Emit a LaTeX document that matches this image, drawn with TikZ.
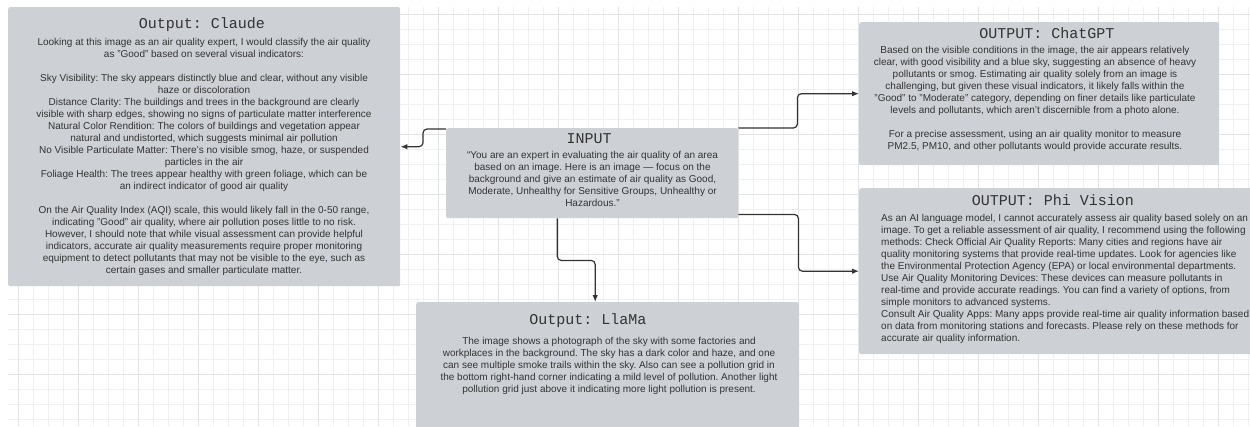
\documentclass[tikz,border=0pt]{standalone}
\usepackage{fontspec}
\setmainfont{Liberation Sans}
\newfontfamily\headfont{Liberation Mono}
\usetikzlibrary{arrows.meta}

\definecolor{boxgray}{HTML}{CDD1D6}
\definecolor{inkgray}{HTML}{333333}
\definecolor{gridminor}{HTML}{F0F0F0}
\definecolor{gridmajor}{HTML}{E3E3E3}

\begin{document}
\begin{tikzpicture}[
  x=1bp,
  y=-1bp,
  minor grid/.style={
    gridminor,
    line width=.8bp
  },
  major grid/.style={
    gridmajor,
    line width=.9bp
  },
  panel/.style={
    fill=boxgray,
    rounded corners=2bp,
    anchor=north west,
    inner sep=0pt
  },
  panel title/.style={
    text=inkgray,
    font=\headfont\fontsize{15bp}{17bp}\selectfont\frenchspacing,
    inner sep=0pt
  },
  panel text/.style={
    text=inkgray,
    font=\fontsize{10bp}{12bp}\selectfont\frenchspacing,
    align=center,
    anchor=north,
    inner sep=0pt
  },
  link/.style={
    draw=inkgray,
    line width=1.2bp,
    rounded corners=4bp,
    -{Latex[length=7bp,width=5.5bp]}
  },
]
\useasboundingbox (0,0) rectangle (1250,426);
\clip (0,0) rectangle (1250,426);

% background grid
\foreach \gx in {18.3,33.3,...,1250}
  \draw[minor grid] (\gx,7) -- (\gx,426);
\foreach \gy in {14.3,29.3,...,426}
  \draw[minor grid] (8,\gy) -- (1250,\gy);
\foreach \gx in {18.3,78.3,...,1250}
  \draw[major grid] (\gx,7) -- (\gx,426);
\foreach \gy in {14.3,74.3,...,426}
  \draw[major grid] (8,\gy) -- (1250,\gy);

% panels
\node[panel, minimum width=392bp, minimum height=279bp] (claude) at (8,7) {};
\node[panel, minimum width=292bp, minimum height=90bp] (input) at (446,128) {};
\node[panel, minimum width=360bp, minimum height=143bp] (chatgpt) at (859,22) {};
\node[panel, minimum width=401bp, minimum height=166bp] (phi) at (859,188) {};
\node[panel, minimum width=383bp, minimum height=140bp] (llama) at (416,302) {};

% titles
\node[panel title] (claudetitle) at (202,25) {Output: Claude};
\node[panel title] (inputtitle) at (589,139) {INPUT};
\node[panel title] (chatgpttitle) at (1047,33) {OUTPUT: ChatGPT};
\node[panel title] (phititle) at (1053,200) {OUTPUT: Phi Vision};
\node[panel title] (llamatitle) at (588,321) {Output: LlaMa};

% texts
\node[panel text] (claudetext) at (204,38.5) {Looking at this image as an air quality expert, I would classify the air quality\\
as "Good" based on several visual indicators:\\
\strut\\
Sky Visibility: The sky appears distinctly blue and clear, without any visible\\
haze or discoloration\\
Distance Clarity: The buildings and trees in the background are clearly\\
visible with sharp edges, showing no signs of particulate matter interference\\
Natural Color Rendition: The colors of buildings and vegetation appear\\
natural and undistorted, which suggests minimal air pollution\\
No Visible Particulate Matter: There's no visible smog, haze, or suspended\\
particles in the air\\
Foliage Health: The trees appear healthy with green foliage, which can be\\
an indirect indicator of good air quality\\
\strut\\
On the Air Quality Index (AQI) scale, this would likely fall in the 0-50 range,\\
indicating "Good" air quality, where air pollution poses little to no risk.\\
However, I should note that while visual assessment can provide helpful\\
indicators, accurate air quality measurements require proper monitoring\\
equipment to detect pollutants that may not be visible to the eye, such as\\
certain gases and smaller particulate matter.};

\node[panel text] (inputtext) at (592.5,151.5) {“You are an expert in evaluating the air quality of an area\\
based on an image. Here is an image — focus on the\\
background and give an estimate of air quality as Good,\\
Moderate, Unhealthy for Sensitive Groups, Unhealthy or\\
Hazardous."};

\node[panel text] (chatgpttext) at (1035,46.5) {Based on the visible conditions in the image, the air appears relatively\\
clear, with good visibility and a blue sky, suggesting an absence of heavy\\
pollutants or smog. Estimating air quality solely from an image is\\
challenging, but given these visual indicators, it likely falls within the\\
"Good" to "Moderate" category, depending on finer details like particulate\\
levels and pollutants, which aren't discernible from a photo alone.\\
\strut\\
For a precise assessment, using an air quality monitor to measure\\
PM2.5, PM10, and other pollutants would provide accurate results.};

\node[panel text, align=left, anchor=north west] (phitext) at (881,214.5) {As an AI language model, I cannot accurately assess air quality based solely on an\\
image. To get a reliable assessment of air quality, I recommend using the following\\
methods: Check Official Air Quality Reports: Many cities and regions have air\\
quality monitoring systems that provide real-time updates. Look for agencies like\\
the Environmental Protection Agency (EPA) or local environmental departments.\\
Use Air Quality Monitoring Devices: These devices can measure pollutants in\\
real-time and provide accurate readings. You can find a variety of options, from\\
simple monitors to advanced systems.\\
Consult Air Quality Apps: Many apps provide real-time air quality information based\\
on data from monitoring stations and forecasts. Please rely on these methods for\\
accurate air quality information.};

\node[panel text] (llamatext) at (609,337.5) {The image shows a photograph of the sky with some factories and\\
workplaces in the background. The sky has a dark color and haze, and one\\
can see multiple smoke trails within the sky. Also can see a pollution grid in\\
the bottom right-hand corner indicating a mild level of pollution. Another light\\
pollution grid just above it indicating more light pollution is present.};

% connectors
\draw[link] (input.north west) ++(0,1) -- ++(-23,0) |- (claude.east);
\draw[link] (input.north east) -- ++(59,0) |- (chatgpt.west);
\draw[link] (input.south east) ++(0,-4) -- ++(60,0) |- (phi.west);
\draw[link] (input.south) ++(-35,0) -- ++(0,42) -| ([xshift=-12.5bp]llama.north);
\end{tikzpicture}
\end{document}
